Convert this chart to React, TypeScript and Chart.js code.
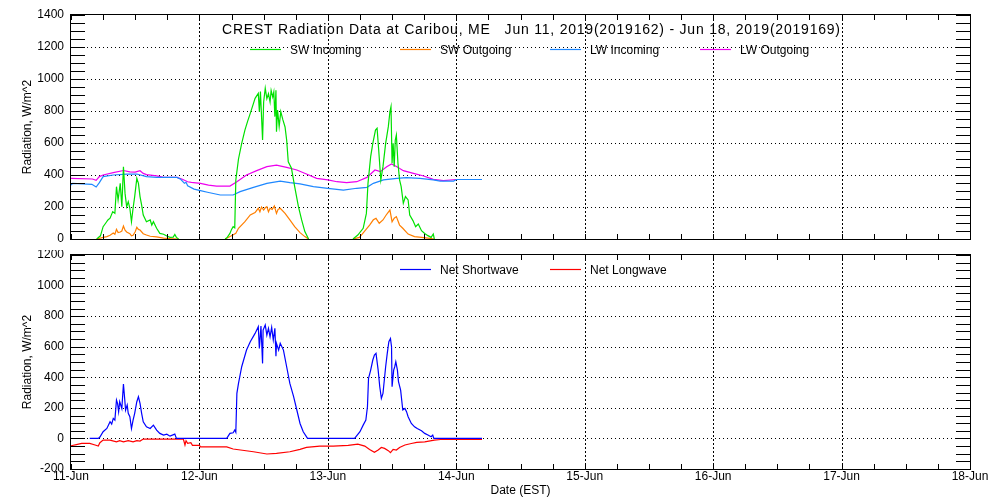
import React, { useEffect, useRef } from 'react';
import { Chart, registerables } from 'chart.js';

Chart.register(...registerables);

const FONT = "'Liberation Sans', Arial, sans-serif";

const TITLE = 'CREST Radiation Data at Caribou, ME   Jun 11, 2019(2019162) - Jun 18, 2019(2019169)';
const Y_TITLE = 'Radiation, W/m^2';
const X_TITLE = 'Date (EST)';
const DAY_LABELS = ['11-Jun', '12-Jun', '13-Jun', '14-Jun', '15-Jun', '16-Jun', '17-Jun', '18-Jun'];

// [hours since 11-Jun 00:00 EST, W/m^2]
type Pt = [number, number | null];

const SW_IN: Pt[] = [
  [4.8, 0], [5.5, 20], [6.0, 77], [6.5, 100], [6.9, 119], [7.3, 130], [7.8, 171], [8.2, 160], [8.5, 327],
  [8.8, 244], [9.2, 348], [9.5, 202], [9.8, 452], [10.1, 285], [10.4, 202], [10.7, 233], [11.0, 192],
  [11.3, 108], [11.6, 192], [11.9, 265], [12.3, 379], [12.6, 348], [12.9, 265], [13.2, 212], [13.5, 150],
  [14.1, 108], [14.8, 119], [15.1, 87], [15.4, 108], [16.0, 67], [16.6, 35], [17.3, 30], [17.9, 19],
  [18.5, 10], [19.1, 12], [19.4, 29], [19.7, 10], [20.1, 0], [20.2, null],
  [28.8, 0], [29.2, 10], [29.7, 35], [30.0, 60], [30.3, 77], [30.6, 70], [30.8, 369], [31.3, 500],
  [31.9, 598], [32.5, 681], [33.0, 735], [33.5, 785], [34.1, 848], [34.4, 879], [35.0, 910], [35.2, 796],
  [35.4, 921], [35.8, 619], [36.0, 856], [36.3, 942], [36.6, 877], [36.9, 908], [37.2, 856], [37.4, 929],
  [37.7, 887], [37.9, 919], [38.1, 765], [38.3, 929], [38.4, 671], [38.6, 806], [38.9, 702], [39.2, 796],
  [39.6, 744], [40.0, 700], [40.3, 619], [40.6, 483], [41.2, 442], [41.8, 327], [42.5, 202], [43.1, 119],
  [43.7, 46], [44.4, 0], [44.5, null],
  [52.7, 0], [53.6, 25], [54.6, 67], [55.2, 160], [55.5, 348], [56.0, 515], [56.4, 598], [56.9, 681],
  [57.2, 692], [57.5, 556], [57.9, 369], [58.3, 452], [58.8, 598], [59.3, 702], [59.6, 796], [59.8, 827],
  [60.0, 473], [60.2, 598], [60.4, 452], [60.6, 619], [60.8, 650], [61.1, 473], [61.4, 369], [61.7, 327],
  [62.1, 223], [62.5, 265], [63.0, 244], [63.3, 150], [63.9, 115], [64.4, 77], [64.9, 94], [65.5, 52],
  [66.1, 35], [66.7, 21], [67.3, 10], [67.7, 31], [67.9, 0],
];

const SW_OUT: Pt[] = [
  [4.8, 0], [6.0, 10], [6.7, 15], [7.3, 23], [7.9, 38], [8.2, 30], [8.5, 60], [8.8, 40], [9.2, 44],
  [9.5, 50], [9.8, 81], [10.1, 55], [10.4, 44], [11.0, 33], [11.3, 20], [11.6, 23], [12.0, 45], [12.3, 73],
  [12.6, 60], [12.9, 56], [13.5, 33], [14.1, 25], [14.8, 17], [16.0, 13], [17.3, 6], [18.5, 2], [20.1, 0],
  [20.2, null],
  [28.8, 0], [29.9, 19], [30.8, 35], [31.3, 67], [32.5, 108], [33.5, 150], [34.4, 165], [35.0, 192],
  [35.3, 170], [35.6, 200], [36.0, 181], [36.3, 195], [36.6, 202], [36.9, 170], [37.2, 192], [37.6, 185],
  [38.0, 206], [38.4, 160], [38.7, 185], [39.1, 192], [40.0, 160], [40.9, 119], [41.8, 77], [42.8, 40],
  [43.7, 15], [44.4, 0], [44.5, null],
  [52.7, 0], [53.9, 10], [54.8, 46], [55.8, 87], [56.5, 120], [57.0, 129], [57.6, 98], [58.3, 119],
  [58.9, 150], [59.6, 181], [60.0, 108], [60.4, 130], [60.8, 140], [61.4, 87], [62.0, 67], [63.0, 31],
  [64.2, 15], [65.5, 10], [66.7, 6], [67.9, 0],
];

const LW_IN: Pt[] = [
  [0, 337], [0.3, 348], [3.9, 342], [4.7, 325], [5.3, 352], [6.0, 390], [7.9, 400], [10.4, 406], [12.3, 406],
  [14.1, 390], [16.0, 385], [19.8, 385], [20.5, 373], [21.2, 348], [21.5, 354], [21.8, 333], [23.0, 312],
  [24.2, 302], [25.5, 292], [27.9, 275], [30.3, 275], [31.6, 296], [34.1, 323], [36.6, 348], [39.1, 362],
  [40.9, 352], [42.8, 344], [45.3, 327], [48.0, 317], [50.9, 306], [53.4, 317], [55.3, 323], [56.5, 348],
  [58.4, 369], [60.9, 379], [62.7, 383], [65.2, 379], [67.7, 369], [69.0, 362], [71.5, 362], [72.0, 372],
  [76.8, 372],
];

const LW_OUT: Pt[] = [
  [0, 379], [4.0, 375], [4.7, 367], [5.3, 390], [6.0, 400], [7.9, 415], [9.8, 428], [11.0, 420], [12.0, 418],
  [12.9, 427], [13.5, 410], [14.1, 402], [16.0, 394], [17.3, 385], [19.8, 385], [20.7, 375], [21.8, 358],
  [22.5, 354], [24.2, 348], [25.7, 337], [27.2, 331], [29.7, 331], [31.0, 358], [32.8, 400], [34.7, 427],
  [36.6, 452], [38.4, 462], [40.3, 448], [42.2, 431], [44.0, 406], [45.9, 379], [48.0, 369], [49.7, 358],
  [51.5, 352], [53.4, 358], [55.3, 385], [56.8, 431], [57.8, 421], [59.0, 452], [59.9, 469], [60.9, 452],
  [62.1, 427], [64.0, 410], [65.9, 394], [67.7, 373], [69.6, 365], [72.0, 372], [76.8, 372],
];

const NET_SW: Pt[] = [
  [3.5, 0], [5.1, 0], [5.4, 9], [6.0, 44], [6.7, 65], [7.3, 109], [7.6, 94], [7.9, 131], [8.2, 120],
  [8.5, 251], [8.7, 229], [8.9, 175], [9.1, 240], [9.5, 196], [9.8, 356], [10.0, 273], [10.2, 185],
  [10.5, 218], [10.7, 164], [11.0, 142], [11.3, 65], [11.6, 120], [11.9, 164], [12.3, 240], [12.6, 273],
  [12.9, 229], [13.2, 164], [13.5, 109], [14.1, 76], [14.8, 65], [15.4, 87], [16.0, 54], [16.6, 33],
  [17.3, 22], [17.9, 28], [18.5, 15], [19.4, 28], [19.7, 0], [29.1, 0], [29.7, 33], [30.3, 37],
  [30.6, 55], [30.8, 40], [31.0, 295], [31.3, 360], [31.9, 469], [32.8, 578], [33.5, 633], [34.4, 687],
  [35.0, 731], [35.2, 589], [35.5, 735], [35.8, 491], [35.9, 709], [36.3, 742], [36.6, 676], [36.9, 720],
  [37.2, 665], [37.5, 727], [37.8, 644], [38.1, 720], [38.3, 538], [38.4, 622], [38.8, 578], [39.1, 622],
  [39.7, 578], [40.3, 469], [40.9, 360], [41.6, 273], [42.2, 186], [42.8, 98], [43.4, 44], [44.2, 0],
  [53.0, 0], [54.0, 44], [54.6, 87], [55.1, 120], [55.4, 207], [55.6, 393], [56.0, 447], [56.4, 513],
  [56.7, 545], [57.0, 556], [57.4, 447], [57.7, 338], [58.0, 262], [58.3, 294], [58.8, 469], [59.1, 556],
  [59.4, 633], [59.7, 654], [59.9, 600], [60.0, 338], [60.3, 447], [60.5, 469], [60.7, 502], [61.0, 447],
  [61.2, 371], [61.6, 316], [62.0, 186], [62.4, 196], [62.7, 175], [63.0, 142], [63.6, 98], [64.2, 76],
  [64.7, 65], [65.5, 50], [66.1, 33], [66.7, 22], [67.3, 11], [67.6, 22], [67.8, 0], [76.8, 0],
];

const NET_LW: Pt[] = [
  [0, -48], [1.0, -40], [2.0, -32], [3.5, -32], [4.5, -43], [5.1, -50], [5.4, -28], [6.0, -11], [7.3, -11],
  [8.5, -22], [9.1, -15], [9.8, -22], [10.7, -15], [11.6, -22], [12.3, -15], [12.9, -17], [13.5, -4],
  [21.0, -4], [21.3, -43], [21.5, -15], [21.8, -32], [22.4, -28], [22.7, -45], [24.0, -45], [24.2, -55],
  [29.1, -55], [30.3, -69], [34.1, -87], [36.6, -102], [38.4, -98], [40.9, -87], [42.8, -72], [44.0, -59],
  [46.5, -50], [49.0, -50], [51.8, -45], [53.6, -37], [54.9, -50], [55.8, -72], [56.7, -91], [57.4, -76],
  [58.0, -59], [58.6, -65], [59.3, -80], [59.7, -93], [60.2, -72], [60.8, -76], [61.4, -59], [62.4, -43],
  [63.6, -33], [64.6, -26], [66.1, -22], [67.9, -11], [69.1, -7], [76.8, -7],
];

const toXY = (s: Pt[]) => s.map(([x, y]) => ({ x, y }));

const idlPlugin = {
  id: 'idl',
  beforeDatasetsDraw(chart: any, _args: any, o: any) {
    const { ctx, chartArea: a } = chart;
    const xs = chart.scales.x;
    const ys = chart.scales.y;
    ctx.save();
    ctx.strokeStyle = '#000';
    ctx.lineWidth = 1;
    ctx.setLineDash([1, 3]);
    for (let v = ys.min + o.yMajor; v < ys.max; v += o.yMajor) {
      const y = Math.round(ys.getPixelForValue(v)) + 0.5;
      ctx.beginPath();
      ctx.moveTo(a.left, y);
      ctx.lineTo(a.right, y);
      ctx.stroke();
    }
    ctx.setLineDash([2, 2]);
    for (let v = xs.min + o.xMajor; v < xs.max; v += o.xMajor) {
      const x = Math.round(xs.getPixelForValue(v)) + 0.5;
      ctx.beginPath();
      ctx.moveTo(x, a.top);
      ctx.lineTo(x, a.bottom);
      ctx.stroke();
    }
    ctx.restore();
  },
  afterDatasetsDraw(chart: any, _args: any, o: any) {
    const { ctx, chartArea: a } = chart;
    const xs = chart.scales.x;
    const ys = chart.scales.y;
    ctx.save();
    ctx.strokeStyle = '#000';
    ctx.lineWidth = 1;
    ctx.setLineDash([]);
    ctx.strokeRect(a.left - 0.5, a.top - 0.5, a.right - a.left + 1, a.bottom - a.top + 1);
    ctx.beginPath();
    for (let v = ys.min; v <= ys.max + 0.001; v += o.yMinor) {
      const y = Math.round(ys.getPixelForValue(v)) + 0.5;
      ctx.moveTo(a.left, y);
      ctx.lineTo(a.left + o.yTickLen, y);
      ctx.moveTo(a.right, y);
      ctx.lineTo(a.right - o.yTickLen, y);
    }
    for (let v = xs.min; v <= xs.max + 0.001; v += o.xMinor) {
      const x = Math.round(xs.getPixelForValue(v)) + 0.5;
      ctx.moveTo(x, a.top);
      ctx.lineTo(x, a.top + o.xTickLen);
      ctx.moveTo(x, a.bottom);
      ctx.lineTo(x, a.bottom - o.xTickLen);
    }
    ctx.stroke();
    ctx.restore();
  },
  afterDraw(chart: any, _args: any, o: any) {
    const { ctx } = chart;
    ctx.save();
    ctx.fillStyle = '#000';
    if (o.title) {
      ctx.font = `14px ${FONT}`;
      ctx.textBaseline = 'middle';
      ctx.textAlign = 'left';
      const plain = ctx.measureText(o.title.text).width;
      const sp = (o.title.width - plain) / (o.title.text.length - 1);
      if ('letterSpacing' in ctx) (ctx as any).letterSpacing = `${sp}px`;
      ctx.fillText(o.title.text, o.title.cx - o.title.width / 2, o.title.y);
      if ('letterSpacing' in ctx) (ctx as any).letterSpacing = '0px';
    }
    if (o.legend) {
      const L = o.legend;
      ctx.font = `12px ${FONT}`;
      ctx.textBaseline = 'middle';
      ctx.textAlign = 'left';
      chart.data.datasets.forEach((ds: any, i: number) => {
        const lx = L.x0 + i * L.step;
        ctx.strokeStyle = ds.borderColor;
        ctx.lineWidth = 1.2;
        ctx.beginPath();
        ctx.moveTo(lx, L.y + 0.5);
        ctx.lineTo(lx + L.lineLen, L.y + 0.5);
        ctx.stroke();
        ctx.fillStyle = '#000';
        ctx.fillText(ds.label, lx + L.lineLen + L.gap, L.y + 2);
      });
    }
    ctx.restore();
  },
};

function lineDs(label: string, pts: Pt[], color: string) {
  return {
    label,
    data: toXY(pts),
    borderColor: color,
    backgroundColor: color,
    borderWidth: 1.2,
    pointRadius: 0,
    tension: 0,
    spanGaps: false,
  };
}

const tickFont = { family: FONT, size: 12 };

function yScale(min: number, max: number) {
  return {
    type: 'linear',
    min,
    max,
    ticks: {
      stepSize: 200,
      padding: 7,
      color: '#000',
      font: tickFont,
      callback: (v: number) => String(v),
    },
    grid: { display: false, drawTicks: false },
    border: { display: false },
    title: { display: true, text: Y_TITLE, color: '#000', font: tickFont, padding: { top: 20, bottom: 0 } },
    afterFit: (s: any) => {
      s.width = 71;
      s.paddingTop = 0;
      s.paddingBottom = 0;
    },
  };
}

function topConfig(): any {
  return {
    type: 'line',
    data: {
      datasets: [
        lineDs('SW Incoming', SW_IN, '#00e000'),
        lineDs('SW Outgoing', SW_OUT, '#ff7f00'),
        lineDs('LW Incoming', LW_IN, '#1e88ff'),
        lineDs('LW Outgoing', LW_OUT, '#ee00ee'),
      ],
    },
    options: {
      animation: false,
      responsive: false,
      maintainAspectRatio: false,
      events: [],
      layout: { autoPadding: false, padding: { top: 15, right: 30, bottom: 11, left: 0 } },
      plugins: {
        legend: { display: false },
        title: { display: false },
        tooltip: { enabled: false },
        idl: {
          yMajor: 200, yMinor: 50, xMajor: 24, xMinor: 6, yTickLen: 14, xTickLen: 5,
          title: { text: TITLE, cx: 531, width: 618, y: 30 },
          legend: { x0: 250, step: 150, y: 49, lineLen: 31, gap: 9 },
        },
      },
      scales: {
        x: { type: 'linear', min: 0, max: 168, display: false },
        y: yScale(0, 1400),
      },
    },
    plugins: [idlPlugin],
  };
}

function bottomConfig(): any {
  return {
    type: 'line',
    data: {
      datasets: [
        lineDs('Net Shortwave', NET_SW, '#0000ff'),
        lineDs('Net Longwave', NET_LW, '#ff0000'),
      ],
    },
    options: {
      animation: false,
      responsive: false,
      maintainAspectRatio: false,
      events: [],
      layout: { autoPadding: false, padding: { top: 5, right: 30, bottom: 0, left: 0 } },
      plugins: {
        legend: { display: false },
        title: { display: false },
        tooltip: { enabled: false },
        idl: {
          yMajor: 200, yMinor: 50, xMajor: 24, xMinor: 6, yTickLen: 14, xTickLen: 5,
          legend: { x0: 400, step: 150, y: 19, lineLen: 31, gap: 9 },
        },
      },
      scales: {
        x: {
          type: 'linear',
          min: 0,
          max: 168,
          ticks: {
            stepSize: 24,
            autoSkip: false,
            maxRotation: 0,
            minRotation: 0,
            padding: 0,
            color: '#000',
            font: tickFont,
            callback: (v: number) => DAY_LABELS[Math.round(v / 24)] ?? '',
          },
          grid: { display: false, drawTicks: false },
          border: { display: false },
          title: { display: true, text: X_TITLE, color: '#000', font: tickFont, padding: { top: 0, bottom: 2 } },
          afterFit: (s: any) => {
            s.height = 31;
            s.paddingLeft = 0;
            s.paddingRight = 0;
          },
        },
        y: yScale(-200, 1200),
      },
    },
    plugins: [idlPlugin],
  };
}

function ChartCanvas({ make, top }: { make: () => any; top: number }) {
  const ref = useRef<HTMLCanvasElement | null>(null);
  useEffect(() => {
    if (!ref.current) return;
    const chart = new Chart(ref.current, make());
    return () => chart.destroy();
  }, [make]);
  return (
    <canvas
      ref={ref}
      width={1000}
      height={250}
      style={{ position: 'absolute', left: 0, top, width: 1000, height: 250 }}
    />
  );
}

export default function App() {
  return (
    <div style={{ position: 'absolute', left: 0, top: 0, width: 1000, height: 500, background: '#fff' }}>
      <ChartCanvas make={topConfig} top={0} />
      <ChartCanvas make={bottomConfig} top={250} />
    </div>
  );
}
